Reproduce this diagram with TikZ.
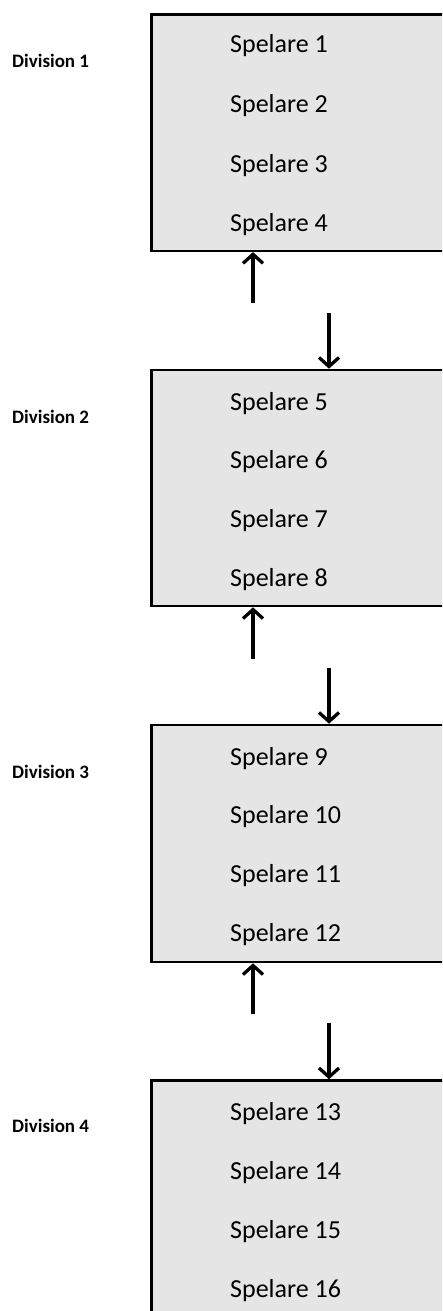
\documentclass[tikz,border=0pt]{standalone}
\usepackage{fontspec}
\setmainfont{Carlito}
\usepackage{tikz}
\usetikzlibrary{arrows.meta,positioning}

\begin{document}
\begin{tikzpicture}[x=1pt, y=-1pt,
    >={Straight Barb[length=9pt,width=20pt]},
    divbox/.style={rectangle, draw, line width=2.6pt, fill=gray!20,
        minimum width=320, inner sep=0pt},
    spelare/.style={anchor=base west, inner sep=0pt,
        font=\fontsize{26}{30}\selectfont},
    divlabel/.style={anchor=base west, inner sep=0pt,
        font=\fontsize{19}{22}\selectfont\bfseries},
    flow/.style={->, line width=3.3pt}]

\useasboundingbox (0,0) rectangle (442,1311);
\clip (0,0) rectangle (442,1311);

%Division 1
\node[divbox, minimum height=236] (div1) at (311.5,132.8) {};
\node[divlabel] (lab1) at (12,68) {Division 1};
\node[spelare] (sp1) at (230,53) {Spelare 1};
\node[spelare] (sp2) at (230,113) {Spelare 2};
\node[spelare] (sp3) at (230,172) {Spelare 3};
\node[spelare] (sp4) at (230,231) {Spelare 4};

%Division 2
\node[divbox, minimum height=236] (div2) at (311.5,488) {};
\node[divlabel] (lab2) at (12,423) {Division 2};
\node[spelare] (sp5) at (230,410) {Spelare 5};
\node[spelare] (sp6) at (230,468) {Spelare 6};
\node[spelare] (sp7) at (230,527) {Spelare 7};
\node[spelare] (sp8) at (230,586) {Spelare 8};

%Division 3
\node[divbox, minimum height=237] (div3) at (311.5,843.5) {};
\node[divlabel] (lab3) at (12,778) {Division 3};
\node[spelare] (sp9) at (230,765) {Spelare 9};
\node[spelare] (sp10) at (230,823) {Spelare 10};
\node[spelare] (sp11) at (230,882) {Spelare 11};
\node[spelare] (sp12) at (230,941) {Spelare 12};

%Division 4 (runs past the lower edge)
\node[divbox, minimum height=260] (div4) at (311.5,1210.5) {};
\node[divlabel] (lab4) at (12,1132) {Division 4};
\node[spelare] (sp13) at (230,1120) {Spelare 13};
\node[spelare] (sp14) at (230,1179) {Spelare 14};
\node[spelare] (sp15) at (230,1238) {Spelare 15};
\node[spelare] (sp16) at (230,1297) {Spelare 16};

%arrow starts
\coordinate (up1) at (253,303);
\coordinate (dn1) at (329,313);
\coordinate (up2) at (253,659);
\coordinate (dn2) at (329,668);
\coordinate (up3) at (253,1014);
\coordinate (dn3) at (329,1023);

%Paths
%up and down between division 1 and 2
\draw[flow] (up1) -- (up1 |- div1.south);
\draw[flow] (dn1) -- (dn1 |- div2.north);
%up and down between division 2 and 3
\draw[flow] (up2) -- (up2 |- div2.south);
\draw[flow] (dn2) -- (dn2 |- div3.north);
%up and down between division 3 and 4
\draw[flow] (up3) -- (up3 |- div3.south);
\draw[flow] (dn3) -- (dn3 |- div4.north);

\end{tikzpicture}
\end{document}
